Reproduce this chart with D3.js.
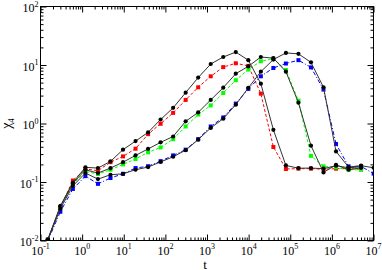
<!DOCTYPE html>
<html>
<head>
<meta charset="utf-8">
<script src="https://cdn.jsdelivr.net/npm/d3@7"></script>
<style>
  html, body { margin: 0; padding: 0; background: #fff; }
  svg { display: block; }
</style>
</head>
<body>
<svg id="chart" width="382" height="270"></svg>
<script>
// ---- data ----
const times = [0.15, 0.3, 0.6, 1.2, 2.4, 4.8, 9.6, 19.2, 38.4, 76.8, 153.6, 307.2, 614.4,
  1228.8, 2457.6, 4915.2, 9830.4, 19660.8, 39321.6, 78643.2, 157286.4, 314572.8,
  629145.6, 1258291.2, 2516582.4, 5033164.8, 10066329.6];

const black1 = [0.0105, 0.039, 0.098, 0.178, 0.173, 0.225, 0.357, 0.50, 0.705, 1.17, 1.85, 3.37,
  6.09, 10.4, 13.7, 16.6, 12.1, 4.8, 0.78, 0.192, 0.172, 0.173, 0.169, 0.19, 0.175, 0.182];
const red = [0.0103, 0.037, 0.106, 0.167, 0.156, 0.218, 0.274, 0.371, 0.657, 0.99, 1.52, 2.53,
  4.16, 6.41, 9.2, 10.7, 9.66, 3.24, 0.397, 0.167, 0.169, 0.169, 0.165, 0.169, 0.169, 0.165];
const black2 = [0.0103, 0.038, 0.095, 0.162, 0.142, 0.173, 0.218, 0.285, 0.367, 0.476, 0.60, 1.09,
  1.55, 2.53, 4.1, 7.1, 9.5, 13.7, 13.1, 7.7, 2.27, 0.418, 0.146, 0.197, 0.162, 0.175];
const green = [0.0103, 0.036, 0.092, 0.152, 0.137, 0.162, 0.200, 0.247, 0.321, 0.39, 0.54, 0.89,
  1.42, 2.04, 3.33, 5.5, 8.35, 11.6, 12.9, 8.2, 2.46, 0.28, 0.185, 0.178, 0.162, 0.162];
const black3 = [0.0103, 0.035, 0.086, 0.142, 0.112, 0.133, 0.138, 0.162, 0.180, 0.22, 0.27, 0.35,
  0.53, 0.84, 1.21, 2.1, 4.06, 7.7, 12.4, 16.1, 15.5, 11.1, 4.16, 0.333, 0.180, 0.19, 0.175];
const blue = [0.0099, 0.031, 0.076, 0.126, 0.093, 0.117, 0.138, 0.173, 0.186, 0.227, 0.285, 0.357,
  0.54, 0.89, 1.27, 2.19, 3.9, 6.41, 8.9, 10.6, 12.1, 9.1, 3.8, 0.447, 0.185, 0.185, 0.139];

const xTickExps = [-1, 0, 1, 2, 3, 4, 5, 6, 7];
const yTickExps = [-2, -1, 0, 1, 2];

const seriesList = [
  { name: "red",    values: red,    color: "#ff0000", dash: "3,2",     marker: "square" },
  { name: "green",  values: green,  color: "#00ff00", dash: "3,2",     marker: "square" },
  { name: "blue",   values: blue,   color: "#0000ff", dash: "4,2,1,2", marker: "square" },
  { name: "black1", values: black1, color: "#000000", dash: null,      marker: "circle" },
  { name: "black2", values: black2, color: "#000000", dash: null,      marker: "circle" },
  { name: "black3", values: black3, color: "#000000", dash: null,      marker: "circle" }
];

const FONT = "'Liberation Serif', 'Times New Roman', 'DejaVu Serif', serif";

// ---- layout ----
const L = 40.5, R = 373.5, T = 6.5, B = 240.5;
const svg = d3.select("#chart");

const x = d3.scaleLog().domain([0.1, 1e7]).range([L, R]);
const y = d3.scaleLog().domain([0.01, 100]).range([B, T]);

svg.append("defs").append("clipPath").attr("id", "clip")
  .append("rect").attr("x", L).attr("y", T).attr("width", R - L).attr("height", B - T);

const plot = svg.append("g").attr("clip-path", "url(#clip)");

seriesList.forEach(s => {
  const pts = s.values.map((v, i) => [times[i], v]);
  const line = d3.line().x(d => x(d[0])).y(d => y(d[1]));
  const path = plot.append("path").datum(pts)
    .attr("d", line)
    .attr("fill", "none")
    .attr("stroke", s.color === "#000000" ? "#333" : s.color)
    .attr("stroke-width", 1);
  if (s.dash) path.attr("stroke-dasharray", s.dash);
  if (s.marker === "circle") {
    plot.selectAll(null).data(pts).enter().append("circle")
      .attr("cx", d => x(d[0])).attr("cy", d => y(d[1])).attr("r", 2.1)
      .attr("fill", s.color);
  } else {
    plot.selectAll(null).data(pts).enter().append("rect")
      .attr("x", d => x(d[0]) - 2).attr("y", d => y(d[1]) - 2)
      .attr("width", 4).attr("height", 4)
      .attr("fill", s.color);
  }
});

// ---- axes (ticks inward on all four sides) ----
const majorLen = 6, minorLen = 3;
function minorTicks(scale) {
  const [a, b] = scale.domain();
  const out = [];
  for (let e = Math.round(Math.log10(a)); e < Math.round(Math.log10(b)); e++) {
    for (let m = 2; m <= 9; m++) out.push(m * Math.pow(10, e));
  }
  return out;
}
const xMajor = xTickExps.map(e => Math.pow(10, e));
const yMajor = yTickExps.map(e => Math.pow(10, e));

const axB = d3.axisBottom(x).tickValues(xMajor).tickSize(-majorLen).tickFormat("");
const axT = d3.axisTop(x).tickValues(xMajor).tickSize(-majorLen).tickFormat("");
const axL = d3.axisLeft(y).tickValues(yMajor).tickSize(-majorLen).tickFormat("");
const axR = d3.axisRight(y).tickValues(yMajor).tickSize(-majorLen).tickFormat("");
const axBm = d3.axisBottom(x).tickValues(minorTicks(x)).tickSize(-minorLen).tickFormat("");
const axTm = d3.axisTop(x).tickValues(minorTicks(x)).tickSize(-minorLen).tickFormat("");
const axLm = d3.axisLeft(y).tickValues(minorTicks(y)).tickSize(-minorLen).tickFormat("");
const axRm = d3.axisRight(y).tickValues(minorTicks(y)).tickSize(-minorLen).tickFormat("");

function put(ax, tx, ty) {
  const g = svg.append("g").attr("transform", `translate(${tx},${ty})`).call(ax);
  g.select(".domain").remove();
  g.selectAll("line").attr("stroke", "#000").attr("stroke-width", 1);
  return g;
}
put(axB, 0, B); put(axBm, 0, B);
put(axT, 0, T); put(axTm, 0, T);
put(axL, L, 0); put(axLm, L, 0);
put(axR, R, 0); put(axRm, R, 0);

svg.append("rect").attr("x", L).attr("y", T).attr("width", R - L).attr("height", B - T)
  .attr("fill", "none").attr("stroke", "#000").attr("stroke-width", 1);

// ---- tick labels ----
xTickExps.forEach(e => {
  const t = svg.append("text").attr("x", x(Math.pow(10, e))).attr("y", 254.5)
    .attr("text-anchor", "middle").attr("font-size", 12)
    .attr("font-family", FONT).attr("fill", "#000");
  t.append("tspan").text("10");
  t.append("tspan").attr("font-size", 8).attr("dy", -5.5).text(String(e));
});
yTickExps.forEach(e => {
  const t = svg.append("text").attr("x", 38.5).attr("y", y(Math.pow(10, e)) + 5.5)
    .attr("text-anchor", "end").attr("font-size", 12)
    .attr("font-family", FONT).attr("fill", "#000");
  t.append("tspan").text("10");
  t.append("tspan").attr("font-size", 8).attr("dy", -5.5).text(String(e));
});

// ---- axis titles ----
svg.append("text").attr("x", (L + R) / 2 - 2).attr("y", 268.5)
  .attr("text-anchor", "middle").attr("font-size", 13)
  .attr("font-family", FONT).attr("fill", "#000").text("t");

const yl = svg.append("text")
  .attr("transform", `translate(10.5,${(T + B) / 2}) rotate(-90)`)
  .attr("text-anchor", "middle").attr("font-size", 14)
  .attr("font-family", FONT).attr("fill", "#000");
yl.append("tspan").text("χ");
yl.append("tspan").attr("font-size", 9).attr("dy", 3).text("4");
</script>
</body>
</html>
